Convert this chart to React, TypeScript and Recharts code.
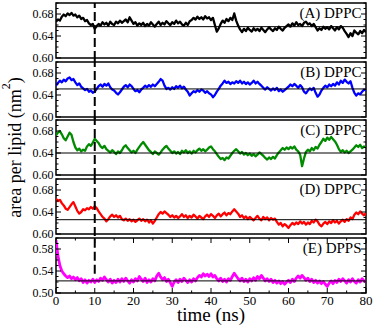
import React from "react";
import { LineChart, Line, XAxis, YAxis, ReferenceLine, ReferenceArea, Label } from "recharts";

// one sample every 0.5 ns, 0–80 ns
const TIME_STEP_NS = 0.5;

// area per lipid (nm^2)
const areaA = [
  0.666, 0.670, 0.668, 0.675, 0.679, 0.676, 0.681, 0.678, 0.682, 0.677,
  0.679, 0.674, 0.677, 0.671, 0.673, 0.667, 0.669, 0.663, 0.660, 0.662,
  0.653, 0.658, 0.662, 0.659, 0.665, 0.661, 0.664, 0.659, 0.666, 0.662,
  0.660, 0.666, 0.663, 0.668, 0.664, 0.667, 0.670, 0.665, 0.674, 0.668,
  0.662, 0.665, 0.659, 0.663, 0.660, 0.664, 0.658, 0.662, 0.659, 0.665,
  0.661, 0.657, 0.662, 0.666, 0.660, 0.664, 0.661, 0.667, 0.663, 0.660,
  0.665, 0.662, 0.668, 0.663, 0.666, 0.661, 0.659, 0.664, 0.660, 0.667,
  0.669, 0.673, 0.670, 0.675, 0.671, 0.674, 0.670, 0.676, 0.672, 0.674,
  0.669, 0.673, 0.660, 0.648, 0.654, 0.662, 0.668, 0.664, 0.671, 0.667,
  0.673, 0.669, 0.681, 0.668, 0.659, 0.652, 0.647, 0.653, 0.649, 0.655,
  0.651, 0.648, 0.654, 0.650, 0.653, 0.649, 0.655, 0.651, 0.647, 0.652,
  0.656, 0.652, 0.649, 0.654, 0.651, 0.657, 0.653, 0.650, 0.655, 0.658,
  0.661, 0.657, 0.663, 0.659, 0.665, 0.660, 0.662, 0.658, 0.664, 0.666,
  0.661, 0.663, 0.658, 0.662, 0.656, 0.650, 0.654, 0.651, 0.657, 0.653,
  0.656, 0.652, 0.658, 0.654, 0.650, 0.656, 0.652, 0.658, 0.655, 0.649,
  0.644, 0.638, 0.645, 0.640, 0.650, 0.646, 0.643, 0.649, 0.645, 0.651,
  0.647,
];

const areaB = [
  0.657, 0.662, 0.666, 0.663, 0.668, 0.665, 0.670, 0.672, 0.667, 0.669,
  0.663, 0.658, 0.661, 0.655, 0.652, 0.649, 0.651, 0.646, 0.648, 0.644,
  0.646, 0.651, 0.656, 0.659, 0.655, 0.660, 0.657, 0.661, 0.654, 0.650,
  0.648, 0.644, 0.641, 0.645, 0.650, 0.655, 0.658, 0.654, 0.659, 0.656,
  0.651, 0.647, 0.649, 0.645, 0.650, 0.653, 0.657, 0.654, 0.658, 0.655,
  0.659, 0.656, 0.660, 0.664, 0.669, 0.666, 0.657, 0.651, 0.653, 0.650,
  0.654, 0.651, 0.656, 0.653, 0.657, 0.652, 0.655, 0.650, 0.646, 0.639,
  0.643, 0.647, 0.645, 0.649, 0.646, 0.650, 0.648, 0.644, 0.647, 0.643,
  0.641, 0.636, 0.640, 0.646, 0.651, 0.657, 0.661, 0.666, 0.662, 0.664,
  0.660, 0.663, 0.661, 0.665, 0.662, 0.666, 0.661, 0.664, 0.660, 0.663,
  0.659, 0.662, 0.666, 0.661, 0.664, 0.660, 0.657, 0.653, 0.650, 0.654,
  0.651, 0.648, 0.652, 0.649, 0.653, 0.647, 0.650, 0.646, 0.649, 0.652,
  0.655, 0.659, 0.656, 0.660, 0.657, 0.653, 0.658, 0.654, 0.646, 0.643,
  0.648, 0.652, 0.649, 0.653, 0.644, 0.637, 0.641, 0.648, 0.653, 0.657,
  0.654, 0.659, 0.656, 0.660, 0.657, 0.663, 0.659, 0.666, 0.662, 0.668,
  0.664, 0.661, 0.665, 0.653, 0.644, 0.639, 0.643, 0.641, 0.646, 0.650,
  0.648,
];

const areaC = [
  0.672, 0.677, 0.680, 0.674, 0.667, 0.663, 0.670, 0.677, 0.673, 0.660,
  0.650, 0.645, 0.648, 0.643, 0.646, 0.644, 0.652, 0.656, 0.653, 0.659,
  0.666, 0.662, 0.658, 0.652, 0.649, 0.653, 0.647, 0.644, 0.641, 0.645,
  0.642, 0.638, 0.643, 0.640, 0.645, 0.651, 0.654, 0.649, 0.645, 0.641,
  0.644, 0.640, 0.646, 0.651, 0.656, 0.660, 0.655, 0.650, 0.645, 0.642,
  0.638, 0.643, 0.640, 0.637, 0.641, 0.646, 0.650, 0.653, 0.648, 0.644,
  0.640, 0.643, 0.639, 0.642, 0.638, 0.644, 0.641, 0.645, 0.640, 0.643,
  0.639, 0.644, 0.641, 0.645, 0.648, 0.644, 0.647, 0.643, 0.646, 0.650,
  0.652, 0.647, 0.643, 0.638, 0.633, 0.629, 0.631, 0.627, 0.632, 0.630,
  0.635, 0.640, 0.644, 0.647, 0.643, 0.639, 0.642, 0.637, 0.640, 0.636,
  0.639, 0.635, 0.638, 0.634, 0.637, 0.641, 0.638, 0.635, 0.631, 0.628,
  0.632, 0.629, 0.633, 0.630, 0.636, 0.641, 0.645, 0.649, 0.646, 0.650,
  0.647, 0.651, 0.648, 0.652, 0.646, 0.643, 0.637, 0.616, 0.630, 0.642,
  0.646, 0.643, 0.649, 0.645, 0.651, 0.648, 0.655, 0.660, 0.666, 0.662,
  0.668, 0.664, 0.669, 0.665, 0.661, 0.655, 0.647, 0.642, 0.645, 0.641,
  0.644, 0.640, 0.643, 0.646, 0.650, 0.654, 0.651, 0.655, 0.649, 0.652,
  0.650,
];

const areaD = [
  0.664, 0.660, 0.662, 0.656, 0.652, 0.646, 0.644, 0.649, 0.654, 0.658,
  0.650, 0.642, 0.637, 0.640, 0.645, 0.643, 0.647, 0.645, 0.649, 0.646,
  0.650, 0.647, 0.641, 0.636, 0.631, 0.628, 0.623, 0.627, 0.632, 0.635,
  0.631, 0.634, 0.630, 0.633, 0.627, 0.625, 0.628, 0.624, 0.627, 0.623,
  0.626, 0.622, 0.625, 0.628, 0.624, 0.627, 0.623, 0.626, 0.621, 0.625,
  0.619, 0.624, 0.630, 0.636, 0.640, 0.637, 0.641, 0.638, 0.635, 0.631,
  0.634, 0.630, 0.633, 0.629, 0.632, 0.636, 0.631, 0.634, 0.629, 0.633,
  0.630, 0.635, 0.632, 0.628, 0.633, 0.630, 0.627, 0.632, 0.635, 0.631,
  0.636, 0.633, 0.629, 0.634, 0.637, 0.632, 0.636, 0.639, 0.634, 0.638,
  0.636, 0.641, 0.645, 0.641, 0.637, 0.631, 0.634, 0.629, 0.632, 0.627,
  0.631, 0.628, 0.625, 0.629, 0.633, 0.628, 0.625, 0.631, 0.627, 0.630,
  0.625, 0.629, 0.626, 0.628, 0.622, 0.617, 0.620, 0.614, 0.618, 0.615,
  0.611, 0.616, 0.620, 0.617, 0.621, 0.618, 0.623, 0.619, 0.622, 0.617,
  0.621, 0.618, 0.624, 0.621, 0.626, 0.623, 0.617, 0.614, 0.619, 0.622,
  0.618, 0.623, 0.620, 0.625, 0.621, 0.624, 0.619, 0.623, 0.626, 0.622,
  0.627, 0.624, 0.630, 0.627, 0.635, 0.639, 0.636, 0.641, 0.637, 0.634,
  0.638,
];

const areaE = [
  0.596, 0.568, 0.550, 0.540, 0.535, 0.531, 0.528, 0.531, 0.526, 0.529,
  0.524, 0.528, 0.522, 0.526, 0.519, 0.524, 0.518, 0.523, 0.520, 0.525,
  0.519, 0.524, 0.521, 0.527, 0.523, 0.529, 0.524, 0.520, 0.525, 0.518,
  0.523, 0.519, 0.525, 0.520, 0.526, 0.521, 0.527, 0.522, 0.518, 0.524,
  0.520, 0.526, 0.522, 0.530, 0.525, 0.521, 0.527, 0.519, 0.524, 0.520,
  0.526, 0.522, 0.531, 0.536, 0.529, 0.524, 0.528, 0.521, 0.525, 0.519,
  0.512, 0.520, 0.524, 0.519, 0.525, 0.521, 0.527, 0.523, 0.519, 0.524,
  0.520, 0.526, 0.522, 0.528, 0.532, 0.529, 0.535, 0.531, 0.534, 0.530,
  0.535, 0.529, 0.532, 0.526, 0.522, 0.527, 0.521, 0.525, 0.520, 0.526,
  0.523, 0.530, 0.536, 0.531, 0.526, 0.522, 0.527, 0.521, 0.525, 0.520,
  0.526, 0.522, 0.528, 0.523, 0.530, 0.526, 0.532, 0.527, 0.522, 0.526,
  0.521, 0.525, 0.519, 0.523, 0.518, 0.522, 0.517, 0.521, 0.516, 0.520,
  0.523, 0.519, 0.525, 0.521, 0.527, 0.531, 0.527, 0.532, 0.528, 0.523,
  0.527, 0.521, 0.525, 0.519, 0.523, 0.518, 0.522, 0.517, 0.521, 0.516,
  0.512, 0.518, 0.522, 0.517, 0.523, 0.519, 0.525, 0.521, 0.526, 0.522,
  0.518, 0.524, 0.520, 0.526, 0.521, 0.518, 0.524, 0.520, 0.526, 0.522,
  0.520,
];

const panelSeries = [areaA, areaB, areaC, areaD, areaE];
const panelNames = ["(A) DPPC", "(B) DPPC", "(C) DPPC", "(D) DPPC", "(E) DPPS"];
const panelMeans = [0.657, 0.651, 0.640, 0.626, 0.522];

const xTicks = [0, 5, 10, 15, 20, 25, 30, 35, 40, 45, 50, 55, 60, 65, 70, 75, 80];
const xLabelTicks = [0, 10, 20, 30, 40, 50, 60, 70, 80];

const yTicksPC = [0.6, 0.61, 0.62, 0.63, 0.64, 0.65, 0.66, 0.67, 0.68, 0.69, 0.7];
const yLabelsPC = [0.6, 0.64, 0.68];
const yTicksPS = [0.5, 0.51, 0.52, 0.53, 0.54, 0.55, 0.56, 0.57, 0.58, 0.59, 0.6];
const yLabelsPS = [0.5, 0.54, 0.58];

const equilibrationNs = 10;
const dashStartPS = 0.535;

const colors = ["#000000", "#0000ff", "#008b00", "#ff0000", "#ff00ff"];
const traceWidths = [2.3, 2.3, 2.3, 2.3, 2.8];

const W = 374;
const PLOT_LEFT = 56;
const PLOT_W = 310;
const PANEL_H = 55;
const PANEL_GAP = 3.7;
const TOP0 = 3;
const FONT = "'Liberation Serif', 'Times New Roman', serif";

const near = (list: number[], v: number) => list.some((t) => Math.abs(t - v) < 1e-6);

function makeYTick(labels: number[]) {
  return (props: any) => {
    const { x, y, payload } = props;
    const major = near(labels, payload.value);
    const len = major ? 5 : 2.5;
    return (
      <g>
        <line x1={x} x2={x + len} y1={y} y2={y} stroke="#000" />
        <line x1={x + PLOT_W} x2={x + PLOT_W - len} y1={y} y2={y} stroke="#000" />
        {major && (
          <text x={x - 2.5} y={y} dy="0.35em" textAnchor="end" fontSize={12} fill="#000">
            {payload.value.toFixed(2)}
          </text>
        )}
      </g>
    );
  };
}

function makeXTick(showLabels: boolean) {
  return (props: any) => {
    const { x, y, payload } = props;
    const major = near(xLabelTicks, payload.value);
    const len = major ? 5 : 2.5;
    return (
      <g>
        <line x1={x} x2={x} y1={y} y2={y - len} stroke="#000" />
        <line x1={x} x2={x} y1={y - PANEL_H} y2={y - PANEL_H + len} stroke="#000" />
        {showLabels && major && (
          <text x={x} y={y + 11.5} textAnchor="middle" fontSize={13} fill="#000">
            {payload.value}
          </text>
        )}
      </g>
    );
  };
}

function YTitle(props: any) {
  const vb = props.viewBox || { x: 0, y: 0, width: PLOT_LEFT, height: PANEL_H };
  const cx = vb.x + 21;
  const cy = vb.y + vb.height / 2;
  return (
    <text
      x={cx}
      y={cy}
      transform={`rotate(-90, ${cx}, ${cy})`}
      textAnchor="middle"
      fontSize={18}
      fill="#000"
    >
      area per lipid (nm
      <tspan dy={-11} fontSize={12}>2</tspan>
      <tspan dy={11}>)</tspan>
    </text>
  );
}

function XTitle(props: any) {
  const vb = props.viewBox || { x: PLOT_LEFT, y: 0, width: PLOT_W, height: 26 };
  return (
    <text x={vb.x + vb.width / 2} y={vb.y + 27.5} textAnchor="middle" fontSize={19} fill="#000">
      time (ns)
    </text>
  );
}

function Panel({ index }: { index: number }) {
  const isPS = index === 4;
  const isLast = index === 4;
  const values = panelSeries[index];
  const data = values.map((v, i) => ({ t: i * TIME_STEP_NS, area: v }));
  const yTicks = isPS ? yTicksPS : yTicksPC;
  const yLabels = isPS ? yLabelsPS : yLabelsPC;
  const yMin = yTicks[0];
  const yMax = yTicks[yTicks.length - 1];
  const ext = 0.0035;
  const dashFrom = isPS ? dashStartPS : yMin - ext;
  const dashTo = index === 0 ? yMax : yMax + ext;
  const marginTop = 8;
  const xAxisH = isLast ? 26 : 0;
  const height = marginTop + PANEL_H + 8 + xAxisH;
  const top = Math.round(TOP0 + index * (PANEL_H + PANEL_GAP)) - marginTop;

  return (
    <div style={{ position: "absolute", left: 0, top, width: W, height }}>
      <LineChart
        width={W}
        height={height}
        data={data}
        margin={{ top: marginTop, right: W - PLOT_LEFT - PLOT_W, bottom: 8, left: 0 }}
      >
        <XAxis
          dataKey="t"
          type="number"
          domain={[0, 80]}
          ticks={xTicks}
          interval={0}
          allowDataOverflow
          axisLine={false}
          tickLine={false}
          tickSize={0}
          tickMargin={0}
          height={xAxisH}
          tick={makeXTick(isLast)}
        >
          {isLast && <Label content={<XTitle />} />}
        </XAxis>
        <YAxis
          type="number"
          domain={[yMin, yMax]}
          ticks={yTicks}
          interval={0}
          allowDataOverflow
          axisLine={false}
          tickLine={false}
          tickSize={0}
          tickMargin={0}
          width={PLOT_LEFT}
          tick={makeYTick(yLabels)}
        >
          {index === 2 && <Label content={<YTitle />} />}
        </YAxis>
        <ReferenceArea
          x1={0}
          x2={80}
          y1={yMin}
          y2={yMax}
          fill="none"
          stroke="#000"
          strokeWidth={1.5}
          ifOverflow="visible"
        >
          <Label
            value={panelNames[index]}
            position="insideTopRight"
            offset={4.5}
            fontSize={15}
            fill="#000"
          />
        </ReferenceArea>
        <Line
          type="linear"
          dataKey="area"
          stroke={colors[index]}
          strokeWidth={traceWidths[index]}
          strokeLinejoin="round"
          dot={false}
          isAnimationActive={false}
        />
        <ReferenceLine y={panelMeans[index]} stroke="#000" strokeWidth={1} />
        <ReferenceLine
          segment={[
            { x: equilibrationNs, y: dashFrom },
            { x: equilibrationNs, y: dashTo },
          ]}
          stroke="#000"
          strokeWidth={2}
          strokeDasharray="9 4"
          ifOverflow="visible"
        />
      </LineChart>
    </div>
  );
}

export default function App() {
  return (
    <div
      style={{
        position: "absolute",
        left: 0,
        top: 0,
        width: W,
        height: 327,
        background: "#fff",
        fontFamily: FONT,
      }}
    >
      <style>{".recharts-surface{overflow:visible}"}</style>
      {[0, 1, 2, 3, 4].map((i) => (
        <Panel key={i} index={i} />
      ))}
    </div>
  );
}
